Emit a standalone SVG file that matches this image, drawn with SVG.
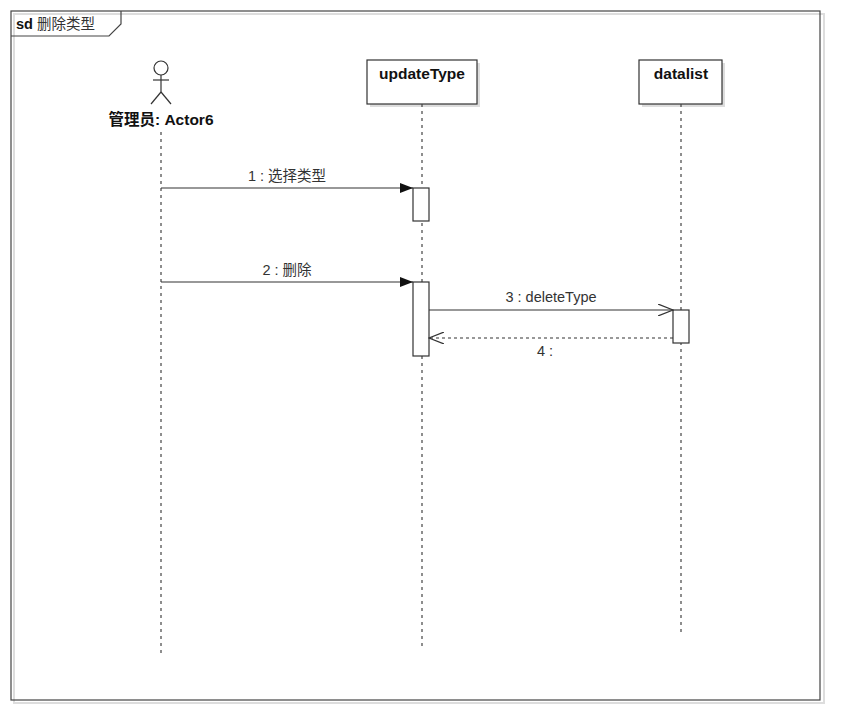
<svg xmlns="http://www.w3.org/2000/svg" width="867" height="720" viewBox="0 0 867 720">
<style>
.box{fill:#fff;stroke:#333;stroke-width:1.2}
.shadow{fill:#ddd}
.life{stroke:#444;stroke-width:1.2;stroke-dasharray:3,4;fill:none}
.msg{stroke:#333;stroke-width:1.2;fill:none}
.ret{stroke:#333;stroke-width:1.2;fill:none;stroke-dasharray:3,3}
.t{font-family:"Liberation Sans","Noto Sans CJK SC",sans-serif;font-size:14.5px;fill:#333}
.b{font-family:"Liberation Sans","Noto Sans CJK SC",sans-serif;font-size:15.5px;font-weight:bold;fill:#111}
</style>
<defs>
<marker id="filled" markerWidth="14" markerHeight="10" refX="13" refY="5" orient="auto" markerUnits="userSpaceOnUse">
<path d="M0,0 L13,5 L0,10 Z" fill="#111"/>
</marker>
<marker id="open" markerWidth="16" markerHeight="12" refX="15" refY="6" orient="auto" markerUnits="userSpaceOnUse">
<path d="M0,0 L15,6 L0,12" fill="none" stroke="#333" stroke-width="1.2"/>
</marker>
</defs>
<rect width="867" height="720" fill="#fff"/>
<g id="frame">
<rect x="14" y="14" width="810" height="689" fill="none" stroke="#ddd" stroke-width="2"/>
<rect x="11" y="11" width="809" height="689" fill="none" stroke="#444" stroke-width="1.2"/>
<path d="M11,36 L109,36 L121,24 L121,11" fill="none" stroke="#444" stroke-width="1.2"/>
<text x="16" y="29" class="t" font-size="15.5px"><tspan font-weight="bold" fill="#111">sd</tspan> 删除类型</text>
</g>
<g id="actor">
<circle cx="161" cy="68" r="7" fill="#fff" stroke="#333" stroke-width="1.2"/>
<line x1="161" y1="75" x2="161" y2="92" class="msg"/>
<line x1="153" y1="80" x2="169" y2="80" class="msg"/>
<line x1="161" y1="92" x2="151" y2="104" class="msg"/>
<line x1="161" y1="92" x2="171" y2="104" class="msg"/>
<text x="161" y="125" class="b" text-anchor="middle">管理员: Actor6</text>
<line x1="161" y1="132" x2="161" y2="656" class="life"/>
</g>
<g id="updateType">
<rect x="370" y="63" width="110" height="44" class="shadow"/>
<rect x="367" y="60" width="110" height="44" class="box"/>
<text x="422" y="79" class="b" text-anchor="middle">updateType</text>
<line x1="422" y1="104" x2="422" y2="646" class="life"/>
<rect x="413" y="188" width="16" height="33" class="box"/>
<rect x="413" y="282" width="16" height="74" class="box"/>
</g>
<g id="datalist">
<rect x="642" y="63" width="83" height="44" class="shadow"/>
<rect x="639" y="60" width="83" height="44" class="box"/>
<text x="681" y="79" class="b" text-anchor="middle">datalist</text>
<line x1="681" y1="104" x2="681" y2="633" class="life"/>
<rect x="673" y="310" width="16" height="33" class="box"/>
</g>
<g id="connectors">
<line x1="161" y1="188" x2="413" y2="188" class="msg" marker-end="url(#filled)"/>
<text x="287" y="181" class="t" text-anchor="middle">1 : 选择类型</text>
<line x1="161" y1="282" x2="413" y2="282" class="msg" marker-end="url(#filled)"/>
<text x="287" y="275" class="t" text-anchor="middle">2 : 删除</text>
<line x1="429" y1="310" x2="673" y2="310" class="msg" marker-end="url(#open)"/>
<text x="551" y="302" class="t" text-anchor="middle">3 : deleteType</text>
<line x1="673" y1="338" x2="429" y2="338" class="ret" marker-end="url(#open)"/>
<text x="545" y="356" class="t" text-anchor="middle">4 :</text>
</g>
</svg>
